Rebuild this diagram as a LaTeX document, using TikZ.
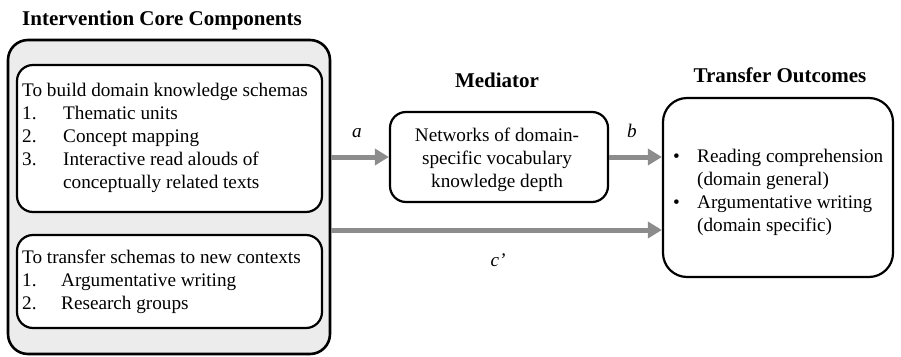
\documentclass[tikz,border=0pt]{standalone}
\usepackage{fontspec}
\setmainfont{Liberation Serif}
\usepackage{tikz}
\usetikzlibrary{arrows.meta, positioning, calc}
\definecolor{CoreGray}{RGB}{236,236,236}
\definecolor{ArrGray}{RGB}{140,140,140}

\begin{document}
\begin{tikzpicture}[x=1pt, y=-1pt,
          box/.style={rectangle, draw=black, line width=2.2pt, fill=white,
                      rounded corners=16pt, inner sep=0pt},
          txt/.style={anchor=base west, inner sep=0pt, font=\fontsize{19.2}{23}\selectfont},
          ctxt/.style={anchor=base, inner sep=0pt, font=\fontsize{19.2}{23}\selectfont},
          head/.style={anchor=base, inner sep=0pt, font=\fontsize{21}{24}\selectfont\bfseries},
          lbl/.style={anchor=base, inner sep=0pt, font=\fontsize{19.2}{23}\selectfont\itshape},
          arr/.style={-{Triangle[length=14pt, width=16pt]}, line width=5pt, ArrGray}
        ]
        \useasboundingbox (0,0) rectangle (901,356);

        % Intervention core components (left)
        \node[head] (hcore) at (162,25) {Intervention Core Components};
        \node[box, fill=CoreGray, line width=2.6pt, rounded corners=20pt,
              minimum width=322pt, minimum height=314pt] (core) at (169,197) {};
        \node[box, minimum width=305pt, minimum height=147pt] (build) at (169.5,138.5) {};
        \node[box, minimum width=305pt, minimum height=93pt] (trans) at (169.5,281.5) {};

        \node[txt] (bhead) at (22,96) {To build domain knowledge schemas};
        \foreach \i/\t/\y in {1/Thematic units/119, 2/Concept mapping/142,
                              3/Interactive read alouds of/165} {
          \node[txt] (bn\i) at (22,\y) {\i.};
          \node[txt] (bt\i) at (63,\y) {\t};
        }
        \node[txt] (bt4) at (63,188) {conceptually related texts};

        \node[txt] (thead) at (22,263) {To transfer schemas to new contexts};
        \foreach \i/\t/\y in {1/Argumentative writing/286, 2/Research groups/309} {
          \node[txt] (tn\i) at (22,\y) {\i.};
          \node[txt] (tt\i) at (61,\y) {\t};
        }

        % Mediator (middle)
        \node[head] (hmed) at (497,87) {Mediator};
        \node[box, minimum width=218pt, minimum height=90pt] (med) at (499,157) {};
        \node[ctxt] (m1) at (497,141) {Networks of domain-};
        \node[ctxt] (m2) at (497,164) {specific vocabulary};
        \node[ctxt] (m3) at (497,187) {knowledge depth};

        % Transfer outcomes (right)
        \node[head] (hout) at (780,82) {Transfer Outcomes};
        \node[box, rounded corners=24pt, minimum width=230pt, minimum height=179pt] (out) at (778,187.5) {};
        \foreach \i/\t/\y in {1/Reading comprehension/162, 2/Argumentative writing/208} {
          \node[txt] (ob\i) at (673,\y) {\textbullet};
          \node[txt] (ot\i) at (697,\y) {\t};
        }
        \node[txt] (oq1) at (697,185) {(domain general)};
        \node[txt] (oq2) at (697,231) {(domain specific)};

        % Paths
        \coordinate (cy) at (0,230);
        \draw[arr] (core.east |- med.west) -- (med.west);
        \draw[arr] (med.east) -- (out.west |- med.east);
        \draw[arr] (core.east |- cy) -- (out.west |- cy);
        \node[lbl] (la) at (357,137) {a};
        \node[lbl] (lb) at (632,137) {b};
        \node[lbl] (lc) at (498,266) {c'};
      \end{tikzpicture}
\end{document}
